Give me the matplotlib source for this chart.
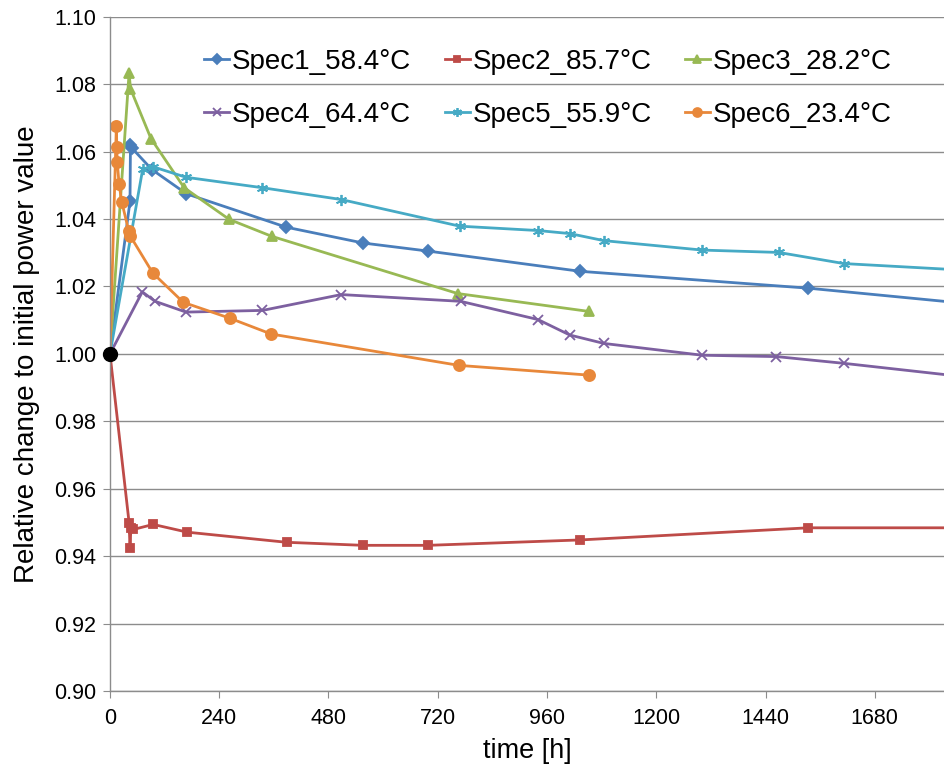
import matplotlib.pyplot as plt

plt.rcParams["font.family"] = ["Liberation Sans", "DejaVu Sans"]

# hours / relative power
spec1_t = [0, 44, 45, 48, 92, 168, 387, 556, 699, 1033, 1534, 2030]
spec1_v = [1.0, 1.0453, 1.0619, 1.0611, 1.0547, 1.0475, 1.0376, 1.0329, 1.0305, 1.0245, 1.0195, 1.0130]

spec2_t = [0, 42, 44, 46, 51, 95, 170, 388, 556, 699, 1033, 1534, 2030]
spec2_v = [1.0, 0.9499, 0.9424, 0.9484, 0.9479, 0.9494, 0.9471, 0.9441, 0.9432, 0.9432, 0.9448, 0.9484, 0.9484]

spec3_t = [0, 42, 45, 90, 163, 262, 355, 764, 1052]
spec3_v = [1.0, 1.0834, 1.0787, 1.0639, 1.0493, 1.0399, 1.0349, 1.0179, 1.0126]

spec4_t = [0, 71, 99, 167, 335, 508, 770, 940, 1010, 1085, 1301, 1464, 1612, 2030]
spec4_v = [1.0, 1.0184, 1.0156, 1.0124, 1.0129, 1.0176, 1.0156, 1.0102, 1.0056, 1.0031, 0.9996, 0.9992, 0.9972, 0.9909]

spec5_t = [0, 72, 95, 167, 335, 508, 768, 940, 1010, 1085, 1301, 1469, 1612, 2030]
spec5_v = [1.0, 1.0549, 1.0555, 1.0524, 1.0493, 1.0458, 1.0379, 1.0366, 1.0357, 1.0336, 1.0308, 1.0301, 1.0268, 1.0237]

spec6_t = [0, 14, 15, 16, 20, 26, 41, 45, 94, 161, 263, 354, 766, 1052]
spec6_v = [1.0, 1.0676, 1.0614, 1.0570, 1.0503, 1.0450, 1.0366, 1.0349, 1.0240, 1.0153, 1.0106, 1.0059, 0.9966, 0.9937]

labels = ["Spec1_58.4°C", "Spec2_85.7°C", "Spec3_28.2°C",
          "Spec4_64.4°C", "Spec5_55.9°C", "Spec6_23.4°C"]
colors = ["#4A7EBB", "#BE4B48", "#98B954", "#7D60A0", "#46AAC5", "#E8883A"]

series = [
    (spec1_t, spec1_v, "D", 6),
    (spec2_t, spec2_v, "s", 6),
    (spec3_t, spec3_v, "^", 7),
    (spec4_t, spec4_v, "x", 7),
    (spec5_t, spec5_v, (6, 2, 0), 8),
    (spec6_t, spec6_v, "o", 8),
]

fig = plt.figure(figsize=(9.44, 7.66), dpi=100)
ax = fig.add_axes([0.1165, 0.098, 0.8835, 0.880])

handles = []
for (t, v, mk, ms), lab, c in zip(series, labels, colors):
    h, = ax.plot(t, v, color=c, lw=2.0, marker=mk, markersize=ms,
                 markeredgewidth=1.3, label=lab)
    handles.append(h)

ax.plot([0], [1.0], "o", color="black", markersize=10, zorder=10, clip_on=False)

ax.set_xlim(0, 1832)
ax.set_ylim(0.90, 1.10)
ax.set_xticks(range(0, 1681, 240))
ax.set_yticks([0.90 + 0.02 * i for i in range(11)])
ax.set_yticklabels([f"{0.90 + 0.02 * i:.2f}" for i in range(11)])
ax.yaxis.grid(True, color="#8C8C8C", lw=1.0)
ax.set_axisbelow(True)

for side in ["top", "right"]:
    ax.spines[side].set_visible(False)
for side in ["left", "bottom"]:
    ax.spines[side].set_color("#8C8C8C")
    ax.spines[side].set_linewidth(1.0)
ax.tick_params(axis="both", colors="#8C8C8C", labelcolor="black",
               labelsize=15.5, length=5, direction="out")
ax.tick_params(axis="x", pad=7)
ax.tick_params(axis="y", pad=5)

ax.set_xlabel("time [h]", fontsize=19.5, labelpad=7)
ax.set_ylabel("Relative change to initial power value", fontsize=20, labelpad=10)

# legend is row-major in the reference: 1 2 3 / 4 5 6
order = [0, 3, 1, 4, 2, 5]
ax.legend([handles[i] for i in order], [labels[i] for i in order],
          ncol=3, loc="upper left", bbox_to_anchor=(0.113, 0.952),
          borderpad=0, borderaxespad=0,
          frameon=False, fontsize=20, handlelength=0.9, handletextpad=0.1,
          columnspacing=1.2, labelspacing=0.95, markerscale=0.8)

fig.savefig("out.png", dpi=100)
